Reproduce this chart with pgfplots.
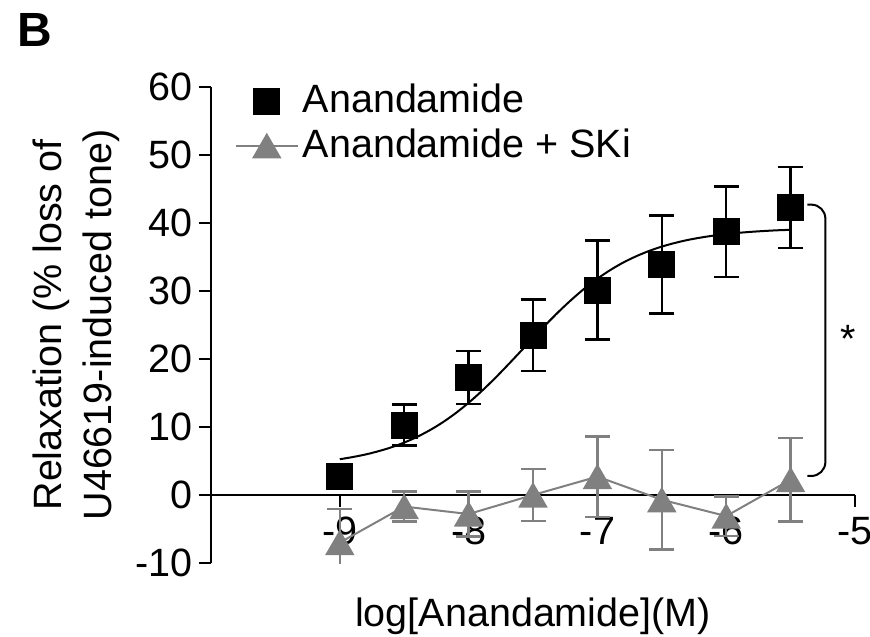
\documentclass[border=0pt]{standalone}
\usepackage{pgfplots}
\pgfplotsset{compat=1.18}
\usepackage{fontspec}
\setmainfont{Liberation Sans}
\definecolor{sgray}{RGB}{128,128,128}
\begin{document}
\fontsize{19.75}{23.5}\selectfont
\begin{tikzpicture}
\useasboundingbox (-105.5pt,-36.5pt) rectangle (329.5pt,281.5pt);
\node[anchor=north west, inner sep=0pt, font=\fontsize{24}{28}\selectfont\bfseries] at (-97pt,275pt) {B};
\begin{axis}[
  at={(0pt,0pt)}, anchor=south west,
  scale only axis, width=322pt, height=238pt,
  xmin=-10, xmax=-5, ymin=-10, ymax=60,
  axis x line*=middle, axis y line*=left,
  axis line style={line width=1pt, black},
  xtick={-9,-8,-7,-6,-5}, ytick={-10,0,10,20,30,40,50,60},
  tick align=outside, major tick length=6pt,
  tick style={line width=1pt, black},
  /pgf/number format/assume math mode=true,
  ticklabel style={font=\fontsize{19.75}{23.5}\selectfont},
  yticklabel style={inner xsep=3pt},
  xticklabel style={inner ysep=5pt},
  xlabel={log[Anandamide](M)},
  xlabel style={at={(rel axis cs:0.5,0)}, anchor=base, inner sep=0pt, yshift=-31.5pt, font=\fontsize{19.75}{23.5}\selectfont},
  ylabel={Relaxation (\% loss of\\U46619-induced tone)},
  ylabel style={align=center, font=\fontsize{19.75}{25}\selectfont, yshift=-2pt},
  clip mode=individual,
  legend style={draw=none, fill=none, at={(rel axis cs:0.027,1.024)}, anchor=north west,
    font=\fontsize{19.75}{23.5}\selectfont, legend cell align=left, row sep=1pt,
    /tikz/every even column/.style={column sep=2pt}},
  legend image code/.code={\draw[mark repeat=2,mark phase=2,#1] plot coordinates {(0pt,0pt) (15.5pt,0pt) (31pt,0pt)};},
]
% fitted curve
\addplot[black, line width=1pt, smooth, forget plot] coordinates {
(-9.0,5.26) (-8.9,5.58) (-8.8,5.96) (-8.7,6.44) (-8.6,7.01) (-8.5,7.71) (-8.4,8.55) (-8.3,9.54) (-8.2,10.70) (-8.1,12.04)
(-8.0,13.56) (-7.9,15.25) (-7.8,17.08) (-7.7,19.03) (-7.6,21.04) (-7.5,23.07) (-7.4,25.06) (-7.3,26.97) (-7.2,28.74) (-7.1,30.37)
(-7.0,31.81) (-6.9,33.08) (-6.8,34.18) (-6.7,35.10) (-6.6,35.88) (-6.5,36.53) (-6.4,37.06) (-6.3,37.50) (-6.2,37.85) (-6.1,38.14)
(-6.0,38.38) (-5.9,38.56) (-5.8,38.71) (-5.7,38.83) (-5.6,38.93) (-5.5,39.00)};
% Anandamide
\addplot[black, only marks, mark=square*, mark size=6.5pt,
  error bars/.cd, y dir=both, y explicit,
  error bar style={line width=1.2pt, black},
  error mark options={rotate=90, mark size=6.25pt, line width=1.2pt}]
  coordinates {
  (-9.0,2.75) +- (0,1.5)
  (-8.5,10.3) +- (0,3.0)
  (-8.0,17.3) +- (0,3.9)
  (-7.5,23.5) +- (0,5.25)
  (-7.0,30.15) +- (0,7.3)
  (-6.5,33.9) +- (0,7.2)
  (-6.0,38.7) +- (0,6.65)
  (-5.5,42.3) +- (0,5.95)};
\addlegendentry{Anandamide}
% Anandamide + SKi
\addplot[sgray, line width=1pt, mark=triangle*, mark size=7.5pt, mark options={solid, fill=sgray, yshift=-2pt},
  error bars/.cd, y dir=both, y explicit,
  error bar style={line width=1.2pt, sgray},
  error mark options={rotate=90, mark size=6.25pt, line width=1.2pt, sgray}]
  coordinates {
  (-9.0,-7.0) +- (0,4.9)
  (-8.5,-1.7) +- (0,2.2)
  (-8.0,-2.8) +- (0,3.3)
  (-7.5,0.0) +- (0,3.8)
  (-7.0,2.7) +- (0,5.9)
  (-6.5,-0.7) +- (0,7.3)
  (-6.0,-3.1) +- (0,2.9)
  (-5.5,2.25) +- (0,6.15)};
\addlegendentry{Anandamide + SKi}
% significance bracket
\draw[line width=1pt, rounded corners=7pt] (axis cs:-5.37,42.7) -| (axis cs:-5.23,22.75) |- (axis cs:-5.37,2.8);
\node[font=\fontsize{19.75}{23.5}\selectfont] at (axis cs:-5.05,22.9) {*};
\end{axis}
\end{tikzpicture}
\end{document}
